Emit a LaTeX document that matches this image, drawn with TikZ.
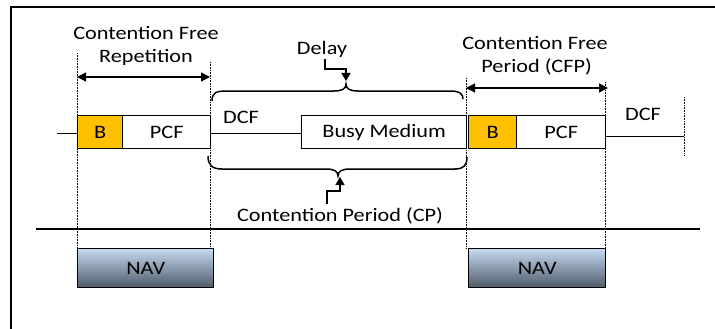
\documentclass[tikz,border=0pt]{standalone}
\usepackage{fontspec}
\setmainfont{Carlito}[FakeStretch=1.17]
\usetikzlibrary{arrows.meta}
\begin{document}
\begin{tikzpicture}[x=1pt,y=-1pt,
  lbl/.style={inner sep=0pt,font=\fontsize{19}{22}\selectfont},
  slot/.style={draw=black,line width=1.4pt,minimum height=33pt,inner sep=0pt,anchor=north west,font=\fontsize{19}{22}\selectfont},
  beacon/.style={slot,fill=beaconc},
  navbox/.style={draw=black,line width=1.4pt,minimum height=39pt,inner sep=0pt,anchor=north west,top color=navtop,bottom color=navbot,font=\fontsize{19}{22}\selectfont},
  guide/.style={densely dotted,line width=0.6pt},
  wire/.style={line width=1pt},
  spanarrow/.style={line width=1.2pt,{Triangle[length=9pt,width=9pt]}-{Triangle[length=9pt,width=9pt]}},
  bentarrow/.style={line width=1.5pt,-{Triangle[length=8pt,width=9pt]}},
  curly/.style={line width=1.5pt}]
\definecolor{navtop}{HTML}{C6D9F1}
\definecolor{navbot}{HTML}{4D5A68}
\definecolor{beaconc}{HTML}{FFC000}
\useasboundingbox (0,0) rectangle (715,329);
% frame
\draw[line width=2pt] (11,329) -- (11,7) -- (715,7);
% dotted guides
\coordinate (g1t) at (77,53);  \coordinate (g1b) at (77,248);
\coordinate (g2t) at (210,62); \coordinate (g2b) at (210,248);
\coordinate (g3t) at (466,78); \coordinate (g3b) at (466,248);
\coordinate (g4t) at (605,82); \coordinate (g4b) at (605,248);
\coordinate (g5t) at (684,97); \coordinate (g5b) at (684,156);
\draw[guide] (g1t) -- (g1b);
\draw[guide] (g2t) -- (g2b);
\draw[guide] (g3t) -- (g3b);
\draw[guide] (g4t) -- (g4b);
\draw[guide] (g5t) -- (g5b);
% timeline wires
\coordinate (w0) at (57,133);
\coordinate (w9) at (684,136);
% boxes
\node[beacon,minimum width=45pt] (b1) at (77,115) {B};
\node[slot,minimum width=88pt] (p1) at (122,115) {PCF};
\node[slot,minimum width=165pt] (busy) at (301,115) {Busy Medium};
\node[beacon,minimum width=48pt] (b2) at (468,115) {B};
\node[slot,minimum width=89pt] (p2) at (516,115) {PCF};
\draw[wire] (w0) -- (w0 -| b1.west);
\draw[wire] (p1.east |- 0,133) -- (busy.west |- 0,133);
\draw[wire] (p2.east |- 0,136) -- (w9);
% labels
\node[lbl,align=center] (cfr) at (146,46) {Contention Free\\[1pt]Repetition};
\node[lbl,align=center] (cfp) at (535,56) {Contention Free\\[1pt]\,Period (CFP)};
\node[lbl] (delay) at (322,49) {Delay};
\node[lbl] (dcf1) at (241,117) {DCF};
\node[lbl] (dcf2) at (643,114) {DCF};
\node[lbl] (cp) at (340,216) {Contention Period (CP)};
% span arrows
\coordinate (a1l) at (77,77);  \coordinate (a1r) at (210,77);
\coordinate (a2l) at (466,88); \coordinate (a2r) at (608,88);
\draw[spanarrow] (a1l) -- (a1r);
\draw[spanarrow] (a2l) -- (a2r);
% braces
\draw[curly] (212,101) .. controls (212,93) and (216,91) .. (226,91) -- (334,91)
  .. controls (342,91) and (346,89) .. (346,84) .. controls (346,89) and (350,91) .. (358,91)
  -- (450,91) .. controls (460,91) and (463,94) .. (463,99);
\draw[curly] (208,156) .. controls (208,165) and (212,169) .. (222,169) -- (326,169)
  .. controls (334,169) and (338,171) .. (338,176) .. controls (338,171) and (342,169) .. (350,169)
  -- (455,169) .. controls (464,169) and (467,165) .. (467,157);
% bent arrows
\coordinate (dstart) at (325,59);
\coordinate (dtip) at (346,81);
\coordinate (cstart) at (327,204);
\coordinate (ctip) at (340,177);
\draw[bentarrow] (dstart) |- (346,69) -- (dtip);
\draw[bentarrow] (cstart) |- (340,191) -- (ctip);
% baseline
\coordinate (h0) at (36,229); \coordinate (h1) at (700,229);
\draw[line width=1.2pt] (h0) -- (h1);
% NAV
\node[navbox,minimum width=136pt] (nav1) at (77,248) {NAV};
\node[navbox,minimum width=137pt] (nav2) at (468,248) {NAV};
\end{tikzpicture}
\end{document}
